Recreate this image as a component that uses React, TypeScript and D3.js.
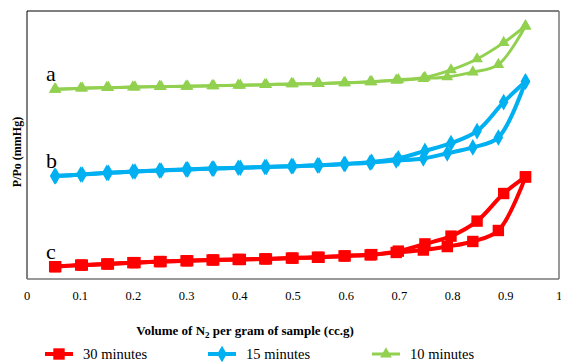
import React, { useRef, useEffect } from 'react';
import * as d3 from 'd3';

// relative pressure axis values (adsorption branch goes up, desorption comes back down)
const adsX = [0.052, 0.101, 0.15, 0.199, 0.249, 0.299, 0.348, 0.397, 0.447, 0.497, 0.546, 0.596, 0.645, 0.694, 0.745, 0.79, 0.838, 0.886, 0.937];
const desX = [0.937, 0.896, 0.846, 0.797, 0.748, 0.698, 0.648, 0.598, 0.549, 0.5, 0.45, 0.401, 0.351, 0.302, 0.252, 0.203, 0.153, 0.104, 0.054];

// 30 minutes (c)
const red30Ads = [4.6, 5.2, 5.6, 6.1, 6.5, 6.8, 7.1, 7.3, 7.5, 7.8, 8.1, 8.6, 9.0, 9.9, 10.8, 12.1, 14.0, 18.1, 38.1];
const red30Des = [38.1, 31.9, 21.6, 16.0, 13.1, 10.4, 9.1, 8.6, 8.1, 7.8, 7.5, 7.3, 7.1, 6.8, 6.5, 6.1, 5.6, 5.2, 4.6];
// 15 minutes (b)
const blue15Ads = [38.4, 39.0, 39.6, 40.1, 40.5, 40.9, 41.2, 41.5, 41.8, 42.1, 42.4, 42.9, 43.4, 44.2, 45.0, 46.9, 49.1, 52.8, 73.7];
const blue15Des = [73.7, 66.0, 55.2, 50.7, 47.8, 45.0, 43.7, 42.9, 42.4, 42.1, 41.8, 41.5, 41.2, 40.9, 40.5, 40.1, 39.6, 39.0, 38.4];
// 10 minutes (a)
const green10Ads = [70.8, 71.2, 71.4, 71.6, 71.8, 71.9, 72.1, 72.3, 72.5, 72.8, 72.9, 73.2, 73.6, 74.1, 74.8, 75.4, 77.2, 80.0, 94.4];
const green10Des = [94.4, 88.2, 82.1, 78.0, 75.2, 74.3, 73.6, 73.2, 72.9, 72.8, 72.5, 72.3, 72.1, 71.9, 71.8, 71.6, 71.4, 71.2, 70.8];

const xTicks = [0, 0.1, 0.2, 0.3, 0.4, 0.5, 0.6, 0.7, 0.8, 0.9, 1];
const seriesNames = ['30 minutes', '15 minutes', '10 minutes'];
const seriesLetters = ['c', 'b', 'a'];

const W = 561;
const H = 362;
const FONT = "'Liberation Serif', 'Times New Roman', 'DejaVu Serif', serif";

const App = () => {
  const svgRef = useRef<SVGSVGElement>(null);

  useEffect(() => {
    const svg = d3.select(svgRef.current);
    svg.selectAll('*').remove();

    const left = 27, right = 559, top = 11, bottom = 279;
    const x = d3.scaleLinear().domain([0, 1]).range([left, right]);
    const y = d3.scaleLinear().domain([0, 100]).range([bottom, top]);

    const series = [
      { name: seriesNames[0], letter: seriesLetters[0], color: '#FF0000', ads: red30Ads, des: red30Des, marker: 'square', width: 4 },
      { name: seriesNames[1], letter: seriesLetters[1], color: '#00B0F0', ads: blue15Ads, des: blue15Des, marker: 'diamond', width: 4 },
      { name: seriesNames[2], letter: seriesLetters[2], color: '#92D050', ads: green10Ads, des: green10Des, marker: 'triangle', width: 3 },
    ];

    const symbolFor = (m: string) => {
      if (m === 'square') return d3.symbol().type(d3.symbolSquare).size(130)();
      if (m === 'diamond') return d3.symbol().type(d3.symbolDiamond).size(80)();
      return d3.symbol().type(d3.symbolTriangle).size(60)();
    };

    // frame
    svg.append('line').attr('x1', left).attr('x2', left).attr('y1', top).attr('y2', bottom).attr('stroke', '#000');
    svg.append('line').attr('x1', left).attr('x2', right).attr('y1', top).attr('y2', top).attr('stroke', '#000');
    svg.append('line').attr('x1', right).attr('x2', right).attr('y1', top).attr('y2', bottom).attr('stroke', '#777').attr('stroke-width', 1.5);
    svg.append('line').attr('x1', left).attr('x2', right).attr('y1', bottom).attr('y2', bottom).attr('stroke', '#777').attr('stroke-width', 1.5);

    // x tick labels
    svg.append('g').selectAll('text').data(xTicks).enter().append('text')
      .attr('x', d => x(d))
      .attr('y', 300)
      .attr('text-anchor', 'middle')
      .attr('font-family', FONT)
      .attr('font-size', 12.5)
      .text(d => String(d));

    const line = d3.line<[number, number]>()
      .x(d => x(d[0]))
      .y(d => y(d[1]))
      .curve(d3.curveCatmullRom.alpha(0.5));

    series.forEach(s => {
      const ads: [number, number][] = adsX.map((v, i) => [v, s.ads[i]]);
      const des: [number, number][] = desX.map((v, i) => [v, s.des[i]]);
      const g = svg.append('g');
      [ads, des].forEach(pts => {
        g.append('path')
          .attr('d', line(pts))
          .attr('fill', 'none')
          .attr('stroke', s.color)
          .attr('stroke-width', s.width)
          .attr('stroke-linejoin', 'round');
      });
      [...ads, ...des].forEach(p => {
        g.append('path')
          .attr('d', symbolFor(s.marker))
          .attr('transform', `translate(${x(p[0])},${y(p[1])})`)
          .attr('fill', s.color);
      });
      // curve letter
      svg.append('text')
        .attr('x', 46)
        .attr('y', y(s.ads[0]) - 8)
        .attr('font-family', FONT)
        .attr('font-size', 22)
        .text(s.letter);
    });

    // y axis title
    svg.append('text')
      .attr('transform', 'translate(21,152) rotate(-90)')
      .attr('text-anchor', 'middle')
      .attr('font-family', FONT)
      .attr('font-size', 12)
      .attr('font-weight', 'bold')
      .text('P/Po (mmHg)');

    // x axis title
    const xt = svg.append('text')
      .attr('x', 245)
      .attr('y', 335)
      .attr('text-anchor', 'middle')
      .attr('font-family', FONT)
      .attr('font-size', 13)
      .attr('font-weight', 'bold');
    xt.append('tspan').text('Volume of N');
    xt.append('tspan').attr('dy', 3).attr('font-size', 9).text('2');
    xt.append('tspan').attr('dy', -3).text(' per gram of sample (cc.g)');

    // legend
    const legendX = [45, 208, 372];
    series.forEach((s, i) => {
      const lg = svg.append('g').attr('transform', `translate(${legendX[i]},354)`);
      lg.append('line').attr('x1', 0).attr('x2', 28).attr('y1', 0).attr('y2', 0)
        .attr('stroke', s.color).attr('stroke-width', s.width);
      lg.append('path').attr('d', symbolFor(s.marker)).attr('transform', 'translate(14,0)').attr('fill', s.color);
      lg.append('text')
        .attr('x', 38)
        .attr('y', 5)
        .attr('font-family', FONT)
        .attr('font-size', 14.5)
        .text(s.name);
    });
  }, []);

  return (
    <svg ref={svgRef} width={W} height={H} style={{ position: 'absolute', left: 0, top: 0, background: '#fff' }} />
  );
};

export default App;
